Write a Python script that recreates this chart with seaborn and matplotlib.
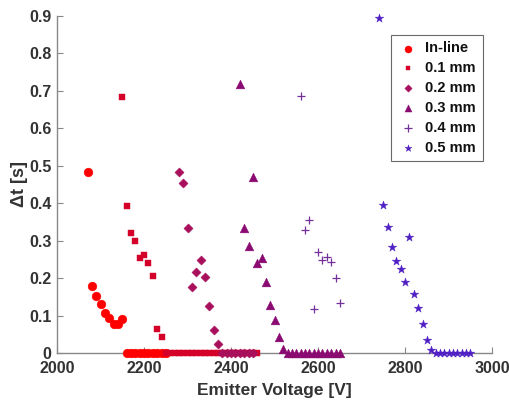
import numpy as np
import pandas as pd
import matplotlib
matplotlib.use("Agg")
import matplotlib.pyplot as plt
import seaborn as sns

# ---- data ----
inline_v = [2070, 2080, 2090, 2100, 2110, 2120, 2130, 2140, 2150,
            2160, 2170, 2180, 2190, 2200, 2210, 2220, 2230, 2240, 2250]
inline_t = [0.483, 0.180, 0.153, 0.131, 0.108, 0.093, 0.079, 0.079, 0.090,
            0, 0, 0, 0, 0, 0, 0, 0, 0, 0]

mm01_v = [2150, 2160, 2170, 2180, 2190, 2200, 2210, 2220, 2230, 2240,
          2250, 2260, 2270, 2280, 2290, 2300, 2310, 2320, 2330, 2340, 2350,
          2360, 2370, 2380, 2390, 2400, 2410, 2420, 2430, 2440, 2450, 2460]
mm01_t = [0.684, 0.393, 0.320, 0.300, 0.253, 0.261, 0.240, 0.206, 0.065, 0.043,
          0, 0, 0, 0, 0, 0, 0, 0, 0, 0, 0,
          0, 0, 0, 0, 0, 0, 0, 0, 0, 0, 0]

mm02_v = [2280, 2290, 2300, 2310, 2320, 2330, 2340, 2350, 2360, 2370,
          2380, 2390, 2400, 2410, 2420, 2430, 2440, 2450]
mm02_t = [0.483, 0.453, 0.335, 0.177, 0.216, 0.248, 0.204, 0.125, 0.061, 0.024,
          0, 0, 0, 0, 0, 0, 0, 0]

mm03_v = [2420, 2430, 2440, 2450, 2460, 2470, 2480, 2490, 2500, 2510, 2520,
          2530, 2540, 2550, 2560, 2570, 2580, 2590, 2600, 2610, 2620, 2630,
          2640, 2650]
mm03_t = [0.718, 0.334, 0.285, 0.470, 0.241, 0.253, 0.190, 0.129, 0.089, 0.043, 0.012,
          0, 0, 0, 0, 0, 0, 0, 0, 0, 0, 0, 0, 0]

mm04_v = [2560, 2570, 2580, 2590, 2600, 2610, 2620, 2630, 2640, 2650]
mm04_t = [0.687, 0.329, 0.355, 0.117, 0.269, 0.248, 0.256, 0.243, 0.200, 0.133]

mm05_v = [2740, 2750, 2760, 2770, 2780, 2790, 2800, 2810, 2820, 2830, 2840,
          2850, 2860, 2870, 2880, 2890, 2900, 2910, 2920, 2930, 2940, 2950]
mm05_t = [0.894, 0.394, 0.337, 0.283, 0.246, 0.224, 0.190, 0.309, 0.158, 0.120,
          0.077, 0.036, 0.009, 0, 0, 0, 0, 0, 0, 0, 0, 0]

labels = ["In-line", "0.1 mm", "0.2 mm", "0.3 mm", "0.4 mm", "0.5 mm"]
x_ticks = [2000, 2200, 2400, 2600, 2800, 3000]
y_ticks = [0, 0.1, 0.2, 0.3, 0.4, 0.5, 0.6, 0.7, 0.8, 0.9]

series = [(inline_v, inline_t), (mm01_v, mm01_t), (mm02_v, mm02_t),
          (mm03_v, mm03_t), (mm04_v, mm04_t), (mm05_v, mm05_t)]

# ---- style ----
sns.set_theme(style="white")
plt.rcParams["font.family"] = ["Liberation Sans", "DejaVu Sans"]
plt.rcParams["font.weight"] = "bold"

colors = ["#ff0000", "#d5002a", "#a8105c", "#8a0a72", "#74309a", "#4f1fc4"]
markers = ["o", "s", "D", "^", "+", "*"]
sizes = [40, 20, 22, 40, 40, 42]

fig = plt.figure(figsize=(5.1, 4.05), dpi=100)
ax = fig.add_axes([0.112, 0.128, 0.853, 0.833])

for (v, t), lab, c, m, s in zip(series, labels, colors, markers, sizes):
    df = pd.DataFrame({"Voltage": v, "dt": t})
    if m == "+":
        sns.scatterplot(data=df, x="Voltage", y="dt", ax=ax, marker=m, color=c,
                        s=s, linewidth=0.9, label=lab, clip_on=False, zorder=3)
    else:
        sns.scatterplot(data=df, x="Voltage", y="dt", ax=ax, marker=m, color=c,
                        s=s, edgecolor=c, linewidth=0.3, label=lab,
                        clip_on=False, zorder=3)

ax.set_xlim(2000, 3000)
ax.set_ylim(0, 0.9)
ax.set_xticks(x_ticks)
ax.set_yticks(y_ticks)
ax.set_yticklabels(["0" if v == 0 else f"{v:g}" for v in y_ticks])
ax.tick_params(direction="in", length=4, width=0.8, color="#888888",
               labelsize=11.5, labelcolor="#333333", bottom=True, left=True)
ax.tick_params(axis="x", pad=6)
ax.tick_params(axis="y", pad=4)
for lbl in ax.get_xticklabels() + ax.get_yticklabels():
    lbl.set_fontweight("bold")

for side in ["top", "right"]:
    ax.spines[side].set_visible(False)
for side in ["left", "bottom"]:
    ax.spines[side].set_color("#888888")
    ax.spines[side].set_linewidth(1.0)

ax.set_xlabel("Emitter Voltage [V]", fontsize=12.5, fontweight="bold",
              color="#333333", labelpad=5)
ax.set_ylabel("Δt [s]", fontsize=13, fontweight="bold", color="#333333",
              labelpad=1)

leg = ax.legend(loc="upper right", bbox_to_anchor=(0.995, 0.965), fontsize=10.5,
                frameon=True, fancybox=False, edgecolor="#444444",
                handletextpad=0.5, borderpad=0.45, labelspacing=0.4,
                handlelength=1.4, markerscale=0.8)
leg.get_frame().set_linewidth(0.8)
for txt in leg.get_texts():
    txt.set_fontweight("bold")
    txt.set_color("#111111")

fig.savefig("out.png", dpi=100)
